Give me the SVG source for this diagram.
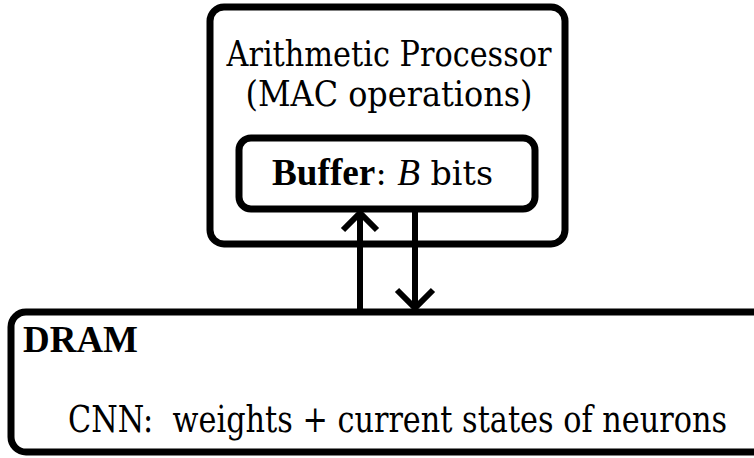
<svg xmlns="http://www.w3.org/2000/svg" width="754" height="458" viewBox="0 0 754 458">
<style>
.box{fill:#fff;stroke:#000;stroke-width:7}
.t{fill:#000;font-family:"DejaVu Serif",serif}
.b{font-family:"Liberation Serif","DejaVu Serif",serif;font-weight:bold}
.i{font-family:"Liberation Serif","DejaVu Serif",serif;font-style:italic}
.con{fill:none;stroke:#000;stroke-width:6}
</style>
<rect x="0" y="0" width="754" height="458" fill="#fff"/>
<g id="processor">
<rect class="box" x="210" y="7" width="355" height="237" rx="14"/>
<text class="t" x="389" y="66" font-size="36" text-anchor="middle" textLength="325" lengthAdjust="spacingAndGlyphs">Arithmetic Processor</text>
<text class="t" x="389" y="106" font-size="36" text-anchor="middle" textLength="287" lengthAdjust="spacingAndGlyphs">(MAC operations)</text>
</g>
<g id="buffer">
<rect class="box" x="239" y="138" width="296" height="71" rx="12"/>
<text class="t" x="272" y="185" font-size="34" textLength="221" lengthAdjust="spacingAndGlyphs"><tspan class="b" font-size="38">Buffer</tspan>: <tspan class="i" font-size="38">B</tspan> bits</text>
</g>
<g id="dram">
<rect class="box" x="11" y="312" width="780" height="140" rx="15"/>
<text class="t b" x="23" y="352" font-size="37" textLength="115" lengthAdjust="spacingAndGlyphs">DRAM</text>
<text class="t" x="68" y="432" font-size="37" textLength="659" lengthAdjust="spacingAndGlyphs" xml:space="preserve">CNN:  weights + current states of neurons</text>
</g>
<g id="connectors">
<line class="con" x1="360" y1="312" x2="360" y2="213"/>
<polyline class="con" points="343,230 360,213 377,230"/>
<line class="con" x1="415" y1="209" x2="415" y2="307"/>
<polyline class="con" points="397,290 415,308 433,290"/>
</g>
</svg>
